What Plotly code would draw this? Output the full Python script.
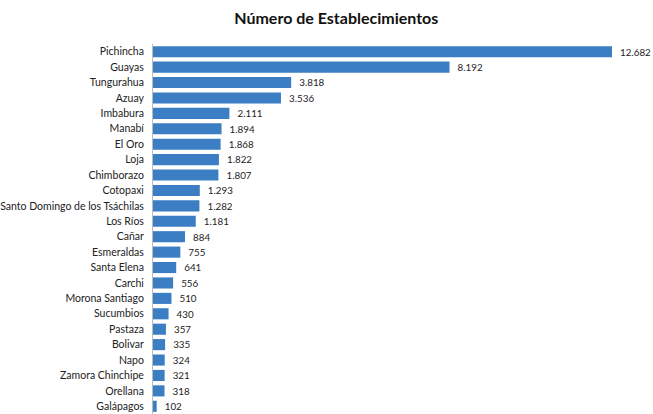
import plotly.graph_objects as go

provinces = ["Pichincha", "Guayas", "Tungurahua", "Azuay", "Imbabura", "Manabí", "El Oro",
             "Loja", "Chimborazo", "Cotopaxi", "Santo Domingo de los Tsáchilas", "Los Ríos",
             "Cañar", "Esmeraldas", "Santa Elena", "Carchi", "Morona Santiago", "Sucumbios",
             "Pastaza", "Bolivar", "Napo", "Zamora Chinchipe", "Orellana", "Galápagos"]
values = [12682, 8192, 3818, 3536, 2111, 1894, 1868, 1822, 1807, 1293, 1282, 1181,
          884, 755, 641, 556, 510, 430, 357, 335, 324, 321, 318, 102]

fig = go.Figure(go.Bar(
    x=values, y=provinces, orientation="h",
    marker=dict(color="#3B7EC3", line=dict(width=0)),
    texttemplate="  %{x:,}", textposition="outside", cliponaxis=False,
    textfont=dict(family="Lato", size=11.5, color="#222222"),
))

fig.update_layout(
    width=653, height=414,
    margin=dict(l=153, r=20, t=44, b=0),
    paper_bgcolor="white", plot_bgcolor="white",
    separators=",.",
    bargap=0.28,
    showlegend=False,
    title=dict(text="<b>Número de Establecimientos</b>", x=0.515, xanchor="center",
               y=0.955, yanchor="middle", font=dict(family="Lato", size=16, color="#111111")),
    xaxis=dict(range=[0, 13262], visible=False, fixedrange=True),
    yaxis=dict(autorange="reversed", showline=True, linecolor="#BBBBBB", linewidth=1,
               ticks="", showgrid=False, ticklabelstandoff=6,
               tickfont=dict(family="Lato", size=10.5, color="#222222")),
)

fig.write_html("out.html")
